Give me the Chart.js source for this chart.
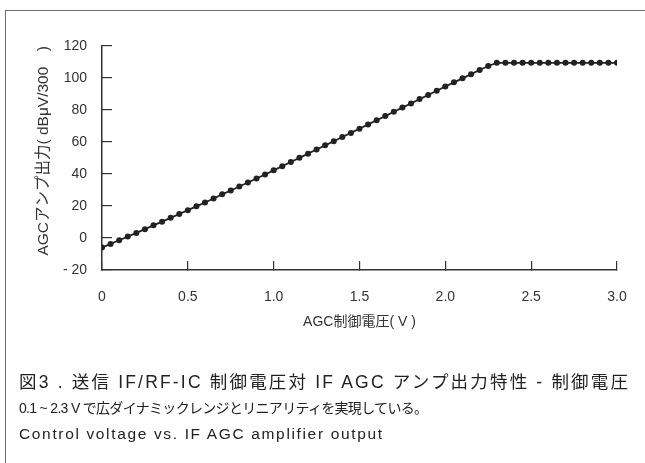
<!DOCTYPE html>
<html><head><meta charset="utf-8">
<script src="https://cdn.jsdelivr.net/npm/chart.js@4.4.0/dist/chart.umd.min.js"></script>
<style>
html,body{margin:0;padding:0;background:#fff;width:645px;height:463px;overflow:hidden;}
#frame{position:absolute;left:5px;top:10px;width:720px;height:520px;border:1.5px solid #6e6e6e;box-sizing:border-box}
#wrap{position:absolute;left:0;top:0;width:645px;height:463px}
.t{position:absolute;font-family:"Liberation Sans","Noto Sans CJK JP",sans-serif;color:#222;white-space:nowrap;line-height:1}
</style></head><body>
<div id="frame"></div>
<div id="wrap"><canvas id="c" width="645" height="463"></canvas></div>
<div class="t" id="c1" data-w="609" style="left:19px;top:374px;font-size:17.5px">図3 . 送信 IF/RF-IC 制御電圧対 IF AGC アンプ出力特性 - 制御電圧</div>
<div class="t" id="c2" data-w="409" style="left:19px;top:401px;font-size:14px">0.1 ~ 2.3 V で広ダイナミックレンジとリニアリティを実現している。</div>
<div class="t" id="c3" data-w="363" style="left:19px;top:426px;font-size:15.5px">Control voltage vs. IF AGC amplifier output</div>
<script>
const voltages = [0.00,0.05,0.10,0.15,0.20,0.25,0.30,0.35,0.40,0.45,0.50,0.55,0.60,0.65,0.70,0.75,0.80,0.85,0.90,0.95,
  1.00,1.05,1.10,1.15,1.20,1.25,1.30,1.35,1.40,1.45,1.50,1.55,1.60,1.65,1.70,1.75,1.80,1.85,1.90,1.95,
  2.00,2.05,2.10,2.15,2.20,2.25,2.30,2.35,2.40,2.45,2.50,2.55,2.60,2.65,2.70,2.75,2.80,2.85,2.90,2.95,3.00];
const agcOutput = [-6.0,-3.7,-1.4,0.9,3.2,5.5,7.9,10.2,12.6,15.0,17.4,19.8,22.2,24.7,27.3,29.7,32.2,34.7,37.2,39.7,
  42.3,44.9,47.5,50.1,52.7,55.3,57.9,60.5,63.1,65.7,68.3,71.0,73.6,76.2,78.9,81.5,84.1,86.8,89.4,92.0,
  94.7,97.3,99.8,102.4,105.0,107.5,109.5,109.5,109.5,109.5,109.5,109.5,109.5,109.5,109.5,109.5,109.5,109.5,109.5,109.5,109.5];
const xTickValues = [0,0.5,1.0,1.5,2.0,2.5,3.0];
const xTickLabels = ['0','0.5','1.0','1.5','2.0','2.5','3.0'];
const yTickValues = [-20,0,20,40,60,80,100,120];
const yTickLabels = ['- 20','0','20','40','60','80','100','120'];
const yTitle = 'AGCアンプ出力( dBμV/300　)';
const xTitle = 'AGC制御電圧( V )';

// fit caption lines to their measured widths with letter spacing
document.querySelectorAll('.t[data-w]').forEach(el=>{
  const target = +el.dataset.w;
  const w = el.getBoundingClientRect().width;
  const n = el.textContent.length;
  el.style.letterSpacing = ((target - w)/ (n-1)).toFixed(3)+'px';
});

const FONT = '"Liberation Sans","Noto Sans CJK JP",sans-serif';
const points = voltages.map((v,i)=>({x:v,y:agcOutput[i]}));

new Chart(document.getElementById('c'),{
  type:'line',
  data:{datasets:[{data:points,borderColor:'#222',borderWidth:1.8,pointRadius:3,pointBackgroundColor:'#222',pointBorderWidth:0,pointHoverRadius:3,tension:0}]},
  options:{
    responsive:false,animation:false,
    layout:{padding:{left:0,top:46,right:28,bottom:131}},
    plugins:{legend:{display:false},tooltip:{enabled:false}},
    scales:{
      x:{type:'linear',min:0,max:3,
        ticks:{stepSize:0.5,padding:28,color:'#333',font:{family:FONT,size:14},maxRotation:0,
          callback:(v)=>{const i=xTickValues.findIndex(t=>Math.abs(t-v)<1e-6);return i>=0?xTickLabels[i]:'';}},
        grid:{drawOnChartArea:false,drawTicks:true,tickLength:-9,color:'#333',lineWidth:1.2},
        border:{display:true,color:'#333',width:1.5},
        title:{display:true,text:xTitle,color:'#333',font:{family:FONT,size:14},padding:{top:0,bottom:1}},
        afterFit:(s)=>{s.height=62;s.paddingLeft=0;s.paddingRight=0;}
      },
      y:{type:'linear',min:-20,max:120,
        ticks:{stepSize:20,padding:25,color:'#333',font:{family:FONT,size:14},
          callback:(v)=>{const i=yTickValues.indexOf(v);return i>=0?yTickLabels[i]:'';}},
        grid:{drawOnChartArea:false,drawTicks:true,tickLength:-10,color:'#333',lineWidth:1.2},
        border:{display:true,color:'#333',width:1.5},
        title:{display:true,text:yTitle,align:'end',color:'#333',font:{family:FONT,size:15.5},padding:{top:34,bottom:0}},
        afterFit:(s)=>{s.width=102;}
      }
    }
  }
});
</script>
</body></html>
